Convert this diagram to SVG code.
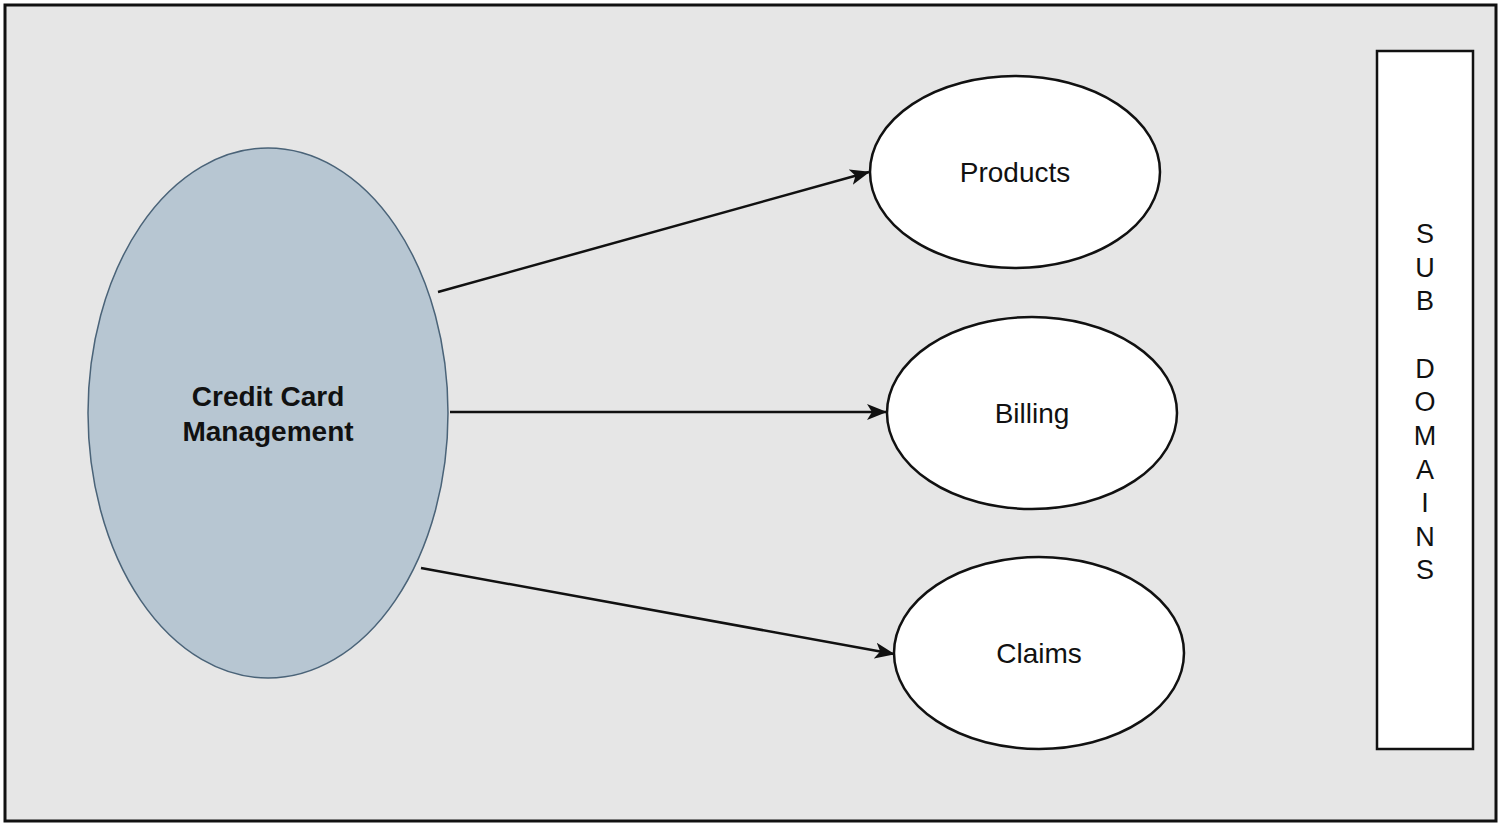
<svg xmlns="http://www.w3.org/2000/svg" width="1501" height="826" viewBox="0 0 1501 826">
<style>
.lbl{font-family:"Liberation Sans",Arial,sans-serif;font-size:28px;fill:#111;text-anchor:middle}
.bold{font-weight:bold}
.vert{font-size:27px}
.sub{fill:#fff;stroke:#111;stroke-width:2.5}
.conn{stroke:#111;stroke-width:2.5;fill:none;marker-end:url(#ah)}
</style>
<defs>
<marker id="ah" markerWidth="20" markerHeight="16" refX="19" refY="8" orient="auto" markerUnits="userSpaceOnUse" viewBox="0 0 20 16">
<path d="M0,0 L20,8 L0,16 L5,8 Z" fill="#111"/>
</marker>
</defs>
<rect x="0" y="0" width="1501" height="826" fill="#fff"/>
<rect x="5" y="5" width="1491" height="816" fill="#e6e6e6" stroke="#111" stroke-width="3"/>
<g id="credit-card-management">
<ellipse cx="268" cy="413" rx="180" ry="265" fill="#b7c6d2" stroke="#4a6378" stroke-width="1.5"/>
<text class="lbl bold" x="268" y="406">Credit Card</text>
<text class="lbl bold" x="268" y="441">Management</text>
</g>
<g id="products">
<ellipse class="sub" cx="1015" cy="172" rx="145" ry="96"/>
<text class="lbl" x="1015" y="182">Products</text>
</g>
<g id="billing">
<ellipse class="sub" cx="1032" cy="413" rx="145" ry="96"/>
<text class="lbl" x="1032" y="423">Billing</text>
</g>
<g id="claims">
<ellipse class="sub" cx="1039" cy="653" rx="145" ry="96"/>
<text class="lbl" x="1039" y="663">Claims</text>
</g>
<g id="sub-domains">
<rect x="1377" y="51" width="96" height="698" fill="#fff" stroke="#111" stroke-width="2.5"/>
<text class="lbl vert" x="1425" y="243">S</text>
<text class="lbl vert" x="1425" y="277">U</text>
<text class="lbl vert" x="1425" y="310">B</text>
<text class="lbl vert" x="1425" y="378">D</text>
<text class="lbl vert" x="1425" y="411">O</text>
<text class="lbl vert" x="1425" y="445">M</text>
<text class="lbl vert" x="1425" y="479">A</text>
<text class="lbl vert" x="1425" y="512">I</text>
<text class="lbl vert" x="1425" y="546">N</text>
<text class="lbl vert" x="1425" y="579">S</text>
</g>
<g id="connectors">
<line class="conn" x1="438" y1="292" x2="869" y2="172"/>
<line class="conn" x1="450" y1="412" x2="886" y2="412"/>
<line class="conn" x1="421" y1="568" x2="894" y2="654"/>
</g>
</svg>
